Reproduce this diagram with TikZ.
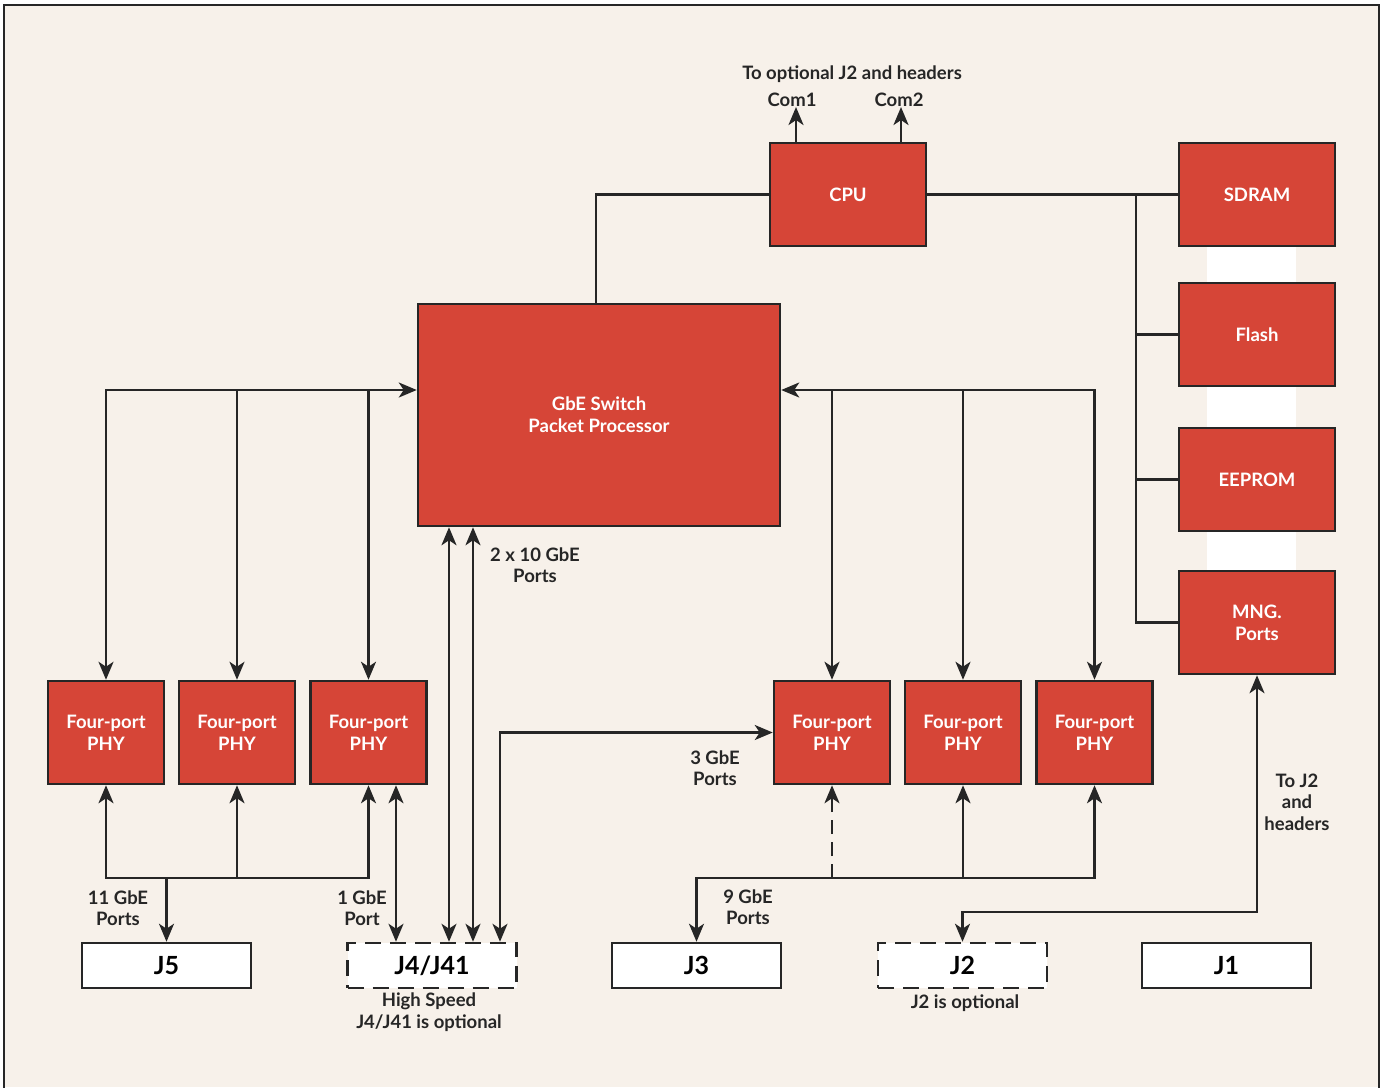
\documentclass[tikz,border=0pt]{standalone}
\usepackage{fontspec}
\setmainfont{Lato}
\usetikzlibrary{arrows.meta}
\definecolor{bgc}{HTML}{F7F1EA}
\definecolor{redc}{HTML}{D64537}
\definecolor{linec}{HTML}{262626}
\definecolor{stripc}{HTML}{FFFFFF}
\tikzset{
  redbox/.style={draw=linec, fill=redc, line width=2.5pt, text=white, font=\fontsize{18.5}{22}\selectfont\bfseries, align=center, inner sep=0pt},
  membox/.style={redbox, minimum width=156pt, minimum height=103pt},
  phybox/.style={redbox, minimum width=116pt, minimum height=103pt},
  jbox/.style={draw=linec, fill=white, line width=2.5pt, minimum width=169pt, minimum height=45pt, inner sep=0pt, font=\fontsize{25}{30}\selectfont\bfseries, text=black},
  jdash/.style={jbox, dash pattern=on 16pt off 9pt},
  lbl/.style={font=\fontsize{18.5}{21.5}\selectfont\bfseries, text=linec, align=center, inner sep=0pt},
  conn/.style={draw=linec, line width=2.5pt},
  tip/.tip={Stealth[length=18pt,width=15pt,inset=5pt]},
  arr/.style={conn, -tip},
  darr/.style={conn, tip-tip},
}
\begin{document}
\begin{tikzpicture}[x=1pt,y=-1pt]
\useasboundingbox (0,0) rectangle (1386,1087);
\fill[white] (0,0) rectangle (1386,1087);
\fill[bgc] (4,5) rectangle (1379,1087);
\draw[linec, line width=2pt] (4,1090) -- (4,5) -- (1379,5) -- (1379,1090);
% white strip behind memory column
\fill[stripc] (1207,246) rectangle (1296,571);

% boxes
\node[membox] (cpu) at (848,194.5) {CPU};
\node[membox] (sdram) at (1257,194.5) {SDRAM};
\node[membox] (flash) at (1257,334.5) {Flash};
\node[membox] (eeprom) at (1257,479.5) {EEPROM};
\node[membox] (mng) at (1257,622.5) {MNG.\\Ports};
\node[redbox, minimum width=362pt, minimum height=222pt] (sw) at (599,415) {GbE Switch\\Packet Processor};

\node[phybox] (phyL1) at (106,732.5) {Four-port\\PHY};
\node[phybox] (phyL2) at (237,732.5) {Four-port\\PHY};
\node[phybox] (phyL3) at (368.5,732.5) {Four-port\\PHY};
\node[phybox] (phyR1) at (832,732.5) {Four-port\\PHY};
\node[phybox] (phyR2) at (963,732.5) {Four-port\\PHY};
\node[phybox] (phyR3) at (1094.5,732.5) {Four-port\\PHY};

\node[jbox] (j5) at (166.5,965.5) {J5};
\node[jdash] (j4) at (432,965.5) {J4/J41};
\node[jbox] (j3) at (696.5,965.5) {J3};
\node[jdash] (j2) at (962.5,965.5) {J2};
\node[jbox] (j1) at (1226.5,965.5) {J1};

% labels
\node[lbl] (topl) at (852,74) {To optional J2 and headers};
\node[lbl] (com1) at (792,100) {Com1};
\node[lbl] (com2) at (899,100) {Com2};
\node[lbl] (l2x10) at (535,565) {2 x 10 GbE\\Ports};
\node[lbl] (l11) at (118,908) {11 GbE\\Ports};
\node[lbl] (l1) at (362,908) {1 GbE\\Port};
\node[lbl] (l3) at (715,768) {3 GbE\\Ports};
\node[lbl] (l9) at (748,907) {9 GbE\\Ports};
\node[lbl] (ltoj2) at (1297,802) {To J2\\and\\headers};
\node[lbl] (lhs) at (429,1012) {High Speed\\J4/J41 is optional};
\node[lbl] (lj2) at (965,1003) {J2 is optional};

% coordinates
\coordinate (yTop) at (0,390);
\coordinate (yBot) at (0,878);
\coordinate (yJ2) at (0,912);
\coordinate (xC1) at (796,0);
\coordinate (xC2) at (901,0);
\coordinate (xSw) at (596,0);
\coordinate (xBus) at (1136,0);
\coordinate (x1g) at (396,0);
\coordinate (x10a) at (449,0);
\coordinate (x10b) at (473,0);
\coordinate (x3g) at (500,0);

% CPU connections
\draw[arr] (xC1 |- cpu.north) -- (xC1 |- com1.south);
\draw[arr] (xC2 |- cpu.north) -- (xC2 |- com2.south);
\draw[conn] (cpu.west) -- (xSw |- cpu.west) -- (xSw |- sw.north);
\draw[conn] (cpu.east) -- (sdram.west);
\draw[conn] (xBus |- sdram.west) -- (xBus |- mng.west) -- (mng.west);
\draw[conn] (xBus |- flash.west) -- (flash.west);
\draw[conn] (xBus |- eeprom.west) -- (eeprom.west);

% top buses
\draw[darr] (phyL1.north) -- (phyL1.north |- yTop) -- (sw.west |- yTop);
\draw[arr] (phyL2.north |- yTop) -- (phyL2.north);
\draw[arr] (phyL3.north |- yTop) -- (phyL3.north);
\draw[darr] (phyR3.north) -- (phyR3.north |- yTop) -- (sw.east |- yTop);
\draw[arr] (phyR1.north |- yTop) -- (phyR1.north);
\draw[arr] (phyR2.north |- yTop) -- (phyR2.north);

% bottom left
\draw[darr] (phyL1.south) -- (phyL1.south |- yBot) -- (phyL3.south |- yBot) -- (phyL3.south);
\draw[arr] (phyL2.south |- yBot) -- (phyL2.south);
\draw[arr] (j5.north |- yBot) -- (j5.north);
\draw[darr] (x1g |- phyL3.south) -- (x1g |- j4.north);
\draw[darr] (x10a |- sw.south) -- (x10a |- j4.north);
\draw[darr] (x10b |- sw.south) -- (x10b |- j4.north);
\draw[darr] (x3g |- j4.north) -- (x3g |- phyR1.west) -- (phyR1.west);

% bottom right
\draw[darr] (j3.north) -- (j3.north |- yBot) -- (phyR3.south |- yBot) -- (phyR3.south);
\draw[arr] (phyR2.south |- yBot) -- (phyR2.south);
\draw[arr, dash pattern=on 14pt off 8pt] (phyR1.south |- yBot) -- (phyR1.south);
\draw[darr] (j2.north) -- (j2.north |- yJ2) -- (mng.south |- yJ2) -- (mng.south);
\end{tikzpicture}
\end{document}
